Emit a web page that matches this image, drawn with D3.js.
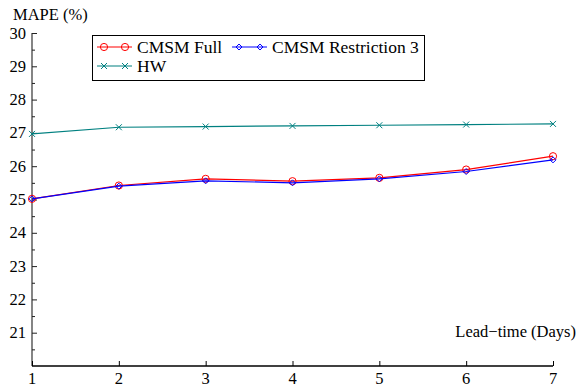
<!DOCTYPE html>
<html>
<head>
<meta charset="utf-8">
<script src="https://cdn.jsdelivr.net/npm/d3@7"></script>
<style>
  html, body { margin: 0; padding: 0; background: #fff; }
  svg text { font-family: "Liberation Serif", "Times New Roman", "DejaVu Serif", serif; }
</style>
</head>
<body>
<svg id="chart" width="577" height="387"></svg>
<script>
// Lead time in days
const leadDays = [1, 2, 3, 4, 5, 6, 7];
// MAPE (%) per lead time
const cmsmFull = [25.02, 25.42, 25.62, 25.55, 25.65, 25.90, 26.30];
const cmsmRestr3 = [25.02, 25.40, 25.56, 25.50, 25.62, 25.84, 26.19];
const hw = [26.97, 27.17, 27.19, 27.21, 27.23, 27.25, 27.27];

const yTicks = [21, 22, 23, 24, 25, 26, 27, 28, 29, 30];
const yMinorTicks = d3.range(20.5, 30, 1);

const series = [
  { name: "CMSM Full", values: cmsmFull, color: "#ff0000", marker: "circle" },
  { name: "CMSM Restriction 3", values: cmsmRestr3, color: "#0000ff", marker: "diamond" },
  { name: "HW", values: hw, color: "#008080", marker: "cross" }
];

const FONT = "Liberation Serif, Times New Roman, DejaVu Serif, serif";
const FS = 16.5;
const svg = d3.select("#chart");
const x = d3.scaleLinear().domain([1, 7]).range([32, 553]);
const y = d3.scaleLinear().domain([20, 30]).range([366, 33]);

// marker drawing helper
function drawMarker(g, type, cx, cy, color) {
  if (type === "circle") {
    g.append("circle").attr("cx", cx).attr("cy", cy).attr("r", 3.6)
      .attr("fill", "none").attr("stroke", color).attr("stroke-width", 1);
  } else if (type === "diamond") {
    const s = 3;
    g.append("path")
      .attr("d", `M${cx},${cy - s}L${cx + s},${cy}L${cx},${cy + s}L${cx - s},${cy}Z`)
      .attr("fill", "none").attr("stroke", color).attr("stroke-width", 1);
  } else {
    const s = 3;
    g.append("path")
      .attr("d", `M${cx - s},${cy - s}L${cx + s},${cy + s}M${cx - s},${cy + s}L${cx + s},${cy - s}`)
      .attr("fill", "none").attr("stroke", color).attr("stroke-width", 1);
  }
}

// y axis (ticks pointing inward)
const yAxis = d3.axisRight(y).tickValues(yTicks).tickSize(5).tickFormat("");
const gy = svg.append("g").attr("transform", `translate(${x(1)},0)`).call(yAxis);
gy.select(".domain").attr("stroke", "#666").attr("stroke-width", 1.6)
  .attr("d", `M0,${y(20)}V${y(30)}`);
gy.selectAll(".tick line").attr("stroke", "#222");
const yMinor = d3.axisRight(y).tickValues(yMinorTicks).tickSize(3).tickFormat("");
const gym = svg.append("g").attr("transform", `translate(${x(1)},0)`).call(yMinor);
gym.select(".domain").remove();
gym.selectAll(".tick line").attr("stroke", "#222");

svg.append("g").selectAll("text").data(yTicks).join("text")
  .attr("x", 26).attr("y", d => y(d) + 5.5)
  .attr("text-anchor", "end").attr("font-family", FONT).attr("font-size", FS).attr("fill", "#000")
  .text(d => d);

// x axis
const xAxis = d3.axisTop(x).tickValues(leadDays).tickSize(5).tickFormat("");
const gx = svg.append("g").attr("transform", `translate(0,${y(20)})`).call(xAxis);
gx.select(".domain").attr("stroke", "#000").attr("stroke-width", 1.4)
  .attr("d", `M${x(1)},0H${x(7)}`);
gx.selectAll(".tick line").attr("stroke", "#000");
svg.append("g").selectAll("text").data(leadDays).join("text")
  .attr("x", d => x(d)).attr("y", 384)
  .attr("text-anchor", "middle").attr("font-family", FONT).attr("font-size", FS).attr("fill", "#000")
  .text(d => d);

// axis titles
svg.append("text").attr("x", 13).attr("y", 20).attr("font-family", FONT)
  .attr("font-size", FS).text("MAPE (%)");
svg.append("text").attr("x", 576).attr("y", 337).attr("text-anchor", "end")
  .attr("font-family", FONT).attr("font-size", FS).text("Lead\u2212time (Days)");

// series lines and markers
const line = d3.line().x((d, i) => x(leadDays[i])).y(d => y(d));
const plot = svg.append("g");
series.forEach(s => {
  plot.append("path").datum(s.values).attr("d", line)
    .attr("fill", "none").attr("stroke", s.color).attr("stroke-width", 1.2);
  const mg = plot.append("g");
  s.values.forEach((v, i) => drawMarker(mg, s.marker, x(leadDays[i]), y(v), s.color));
});

// legend
const lg = svg.append("g");
lg.append("rect").attr("x", 92.5).attr("y", 35.5).attr("width", 332).attr("height", 45)
  .attr("fill", "#fff").attr("stroke", "#000").attr("stroke-width", 1);
const legendPos = [
  { x: 97, y: 47 },
  { x: 232, y: 47 },
  { x: 97, y: 66 }
];
series.forEach((s, i) => {
  const p = legendPos[i];
  lg.append("line").attr("x1", p.x).attr("x2", p.x + 35).attr("y1", p.y).attr("y2", p.y)
    .attr("stroke", s.color).attr("stroke-width", 1.2);
  drawMarker(lg, s.marker, p.x + 7, p.y, s.color);
  drawMarker(lg, s.marker, p.x + 28, p.y, s.color);
  lg.append("text").attr("x", p.x + 40).attr("y", p.y + 5.5)
    .attr("font-family", FONT).attr("font-size", 17.5).text(s.name);
});
</script>
</body>
</html>
